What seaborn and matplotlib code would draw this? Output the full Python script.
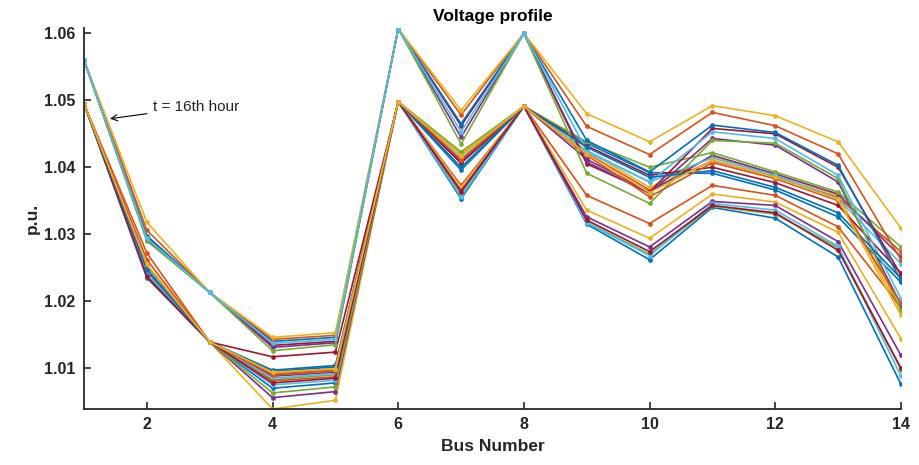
import matplotlib
matplotlib.use("Agg")
import matplotlib.pyplot as plt
import seaborn as sns
import pandas as pd

buses = list(range(1, 15))
hours = list(range(1, 25))

# voltage (p.u.) at buses 1..14 for each hour
h01 = [1.0495, 1.0248, 1.0139, 1.0097, 1.0104, 1.0498, 1.0396, 1.0491, 1.0436, 1.0392, 1.0391, 1.0366, 1.0326, 1.0228]
h02 = [1.0495, 1.0272, 1.0139, 1.0091, 1.0098, 1.0498, 1.0418, 1.0491, 1.0421, 1.0366, 1.0410, 1.0386, 1.0355, 1.0274]
h03 = [1.0495, 1.0252, 1.0139, 1.0093, 1.0100, 1.0498, 1.0420, 1.0491, 1.0425, 1.0370, 1.0416, 1.0390, 1.0358, 1.0185]
h04 = [1.0495, 1.0246, 1.0139, 1.0088, 1.0094, 1.0498, 1.0409, 1.0491, 1.0412, 1.0363, 1.0418, 1.0390, 1.0360, 1.0266]
h05 = [1.0495, 1.0250, 1.0139, 1.0083, 1.0090, 1.0498, 1.0423, 1.0491, 1.0438, 1.0400, 1.0422, 1.0393, 1.0363, 1.0281]
h06 = [1.0495, 1.0249, 1.0139, 1.0085, 1.0092, 1.0498, 1.0413, 1.0491, 1.0423, 1.0378, 1.0414, 1.0388, 1.0353, 1.0256]
h07 = [1.0495, 1.0244, 1.0139, 1.0117, 1.0124, 1.0498, 1.0406, 1.0491, 1.0432, 1.0388, 1.0400, 1.0377, 1.0343, 1.0242]
h08 = [1.0495, 1.0235, 1.0139, 1.0070, 1.0078, 1.0498, 1.0353, 1.0491, 1.0315, 1.0262, 1.0340, 1.0324, 1.0266, 1.0076]
h09 = [1.0495, 1.0254, 1.0139, 1.0081, 1.0087, 1.0498, 1.0373, 1.0491, 1.0358, 1.0316, 1.0373, 1.0358, 1.0311, 1.0191]
h10 = [1.0495, 1.0240, 1.0139, 1.0039, 1.0052, 1.0498, 1.0370, 1.0491, 1.0336, 1.0294, 1.0360, 1.0348, 1.0303, 1.0144]
h11 = [1.0495, 1.0236, 1.0139, 1.0056, 1.0065, 1.0498, 1.0365, 1.0491, 1.0326, 1.0281, 1.0349, 1.0343, 1.0289, 1.0119]
h12 = [1.0495, 1.0238, 1.0139, 1.0063, 1.0072, 1.0498, 1.0358, 1.0491, 1.0318, 1.0270, 1.0342, 1.0330, 1.0280, 1.0098]
h13 = [1.0495, 1.0242, 1.0139, 1.0075, 1.0082, 1.0498, 1.0356, 1.0491, 1.0317, 1.0268, 1.0346, 1.0336, 1.0282, 1.0088]
h14 = [1.0560, 1.0296, 1.0213, 1.0134, 1.0140, 1.0607, 1.0462, 1.0600, 1.0405, 1.0363, 1.0458, 1.0450, 1.0400, 1.0239]
h15 = [1.0560, 1.0298, 1.0213, 1.0140, 1.0146, 1.0607, 1.0465, 1.0600, 1.0440, 1.0393, 1.0463, 1.0452, 1.0403, 1.0231]
h16 = [1.0560, 1.0306, 1.0213, 1.0143, 1.0149, 1.0607, 1.0478, 1.0600, 1.0461, 1.0419, 1.0482, 1.0462, 1.0420, 1.0262]
h17 = [1.0560, 1.0318, 1.0213, 1.0146, 1.0153, 1.0607, 1.0485, 1.0600, 1.0480, 1.0438, 1.0492, 1.0477, 1.0438, 1.0309]
h18 = [1.0560, 1.0292, 1.0213, 1.0131, 1.0138, 1.0607, 1.0445, 1.0600, 1.0408, 1.0361, 1.0443, 1.0433, 1.0378, 1.0195]
h19 = [1.0560, 1.0290, 1.0213, 1.0126, 1.0135, 1.0607, 1.0435, 1.0600, 1.0391, 1.0346, 1.0440, 1.0436, 1.0383, 1.0187]
h20 = [1.0560, 1.0294, 1.0213, 1.0137, 1.0143, 1.0607, 1.0453, 1.0600, 1.0425, 1.0378, 1.0453, 1.0443, 1.0388, 1.0204]
h21 = [1.0495, 1.0237, 1.0139, 1.0078, 1.0085, 1.0498, 1.0363, 1.0491, 1.0321, 1.0274, 1.0343, 1.0332, 1.0276, 1.0100]
h22 = [1.0495, 1.0247, 1.0139, 1.0095, 1.0102, 1.0498, 1.0400, 1.0491, 1.0430, 1.0385, 1.0395, 1.0370, 1.0332, 1.0234]
h23 = [1.0495, 1.0262, 1.0139, 1.0090, 1.0096, 1.0498, 1.0411, 1.0491, 1.0418, 1.0356, 1.0407, 1.0383, 1.0350, 1.0197]
h24 = [1.0495, 1.0255, 1.0139, 1.0094, 1.0099, 1.0498, 1.0417, 1.0491, 1.0420, 1.0362, 1.0411, 1.0385, 1.0352, 1.0179]

profiles = [h01, h02, h03, h04, h05, h06, h07, h08, h09, h10, h11, h12,
            h13, h14, h15, h16, h17, h18, h19, h20, h21, h22, h23, h24]

matlab_colors = ["#0072BD", "#D95319", "#EDB120", "#7E2F8E",
                 "#77AC30", "#4DBEEE", "#A2142F"]

rows = []
for h, prof in zip(hours, profiles):
    for b, v in zip(buses, prof):
        rows.append({"hour": h, "bus": b, "v": v})
df = pd.DataFrame(rows)

sns.set_theme(style="white")
plt.rcParams["font.family"] = ["Liberation Sans", "DejaVu Sans"]

fig = plt.figure(figsize=(9.2, 4.65), dpi=100)
ax = fig.add_axes([0.0913, 0.1204, 0.8880, 0.8194])

palette = [matlab_colors[i % 7] for i in range(len(hours))]
sns.lineplot(data=df, x="bus", y="v", hue="hour", palette=palette,
             marker="o", markersize=3.4, markeredgewidth=0, linewidth=1.2,
             legend=False, ax=ax, sort=False)

ax.set_xlim(1, 14)
ax.set_ylim(1.0039, 1.0608)
ax.set_xticks([2, 4, 6, 8, 10, 12, 14])
ax.set_yticks([1.01, 1.02, 1.03, 1.04, 1.05, 1.06])
ax.set_yticklabels(["1.01", "1.02", "1.03", "1.04", "1.05", "1.06"])
for lab in ax.get_xticklabels() + ax.get_yticklabels():
    lab.set_fontweight("bold")
    lab.set_fontsize(11.5)
    lab.set_color("#262626")
ax.tick_params(direction="in", length=5, width=1.2, colors="#262626",
               left=True, bottom=True, pad=6)
for s in ["top", "right"]:
    ax.spines[s].set_visible(False)
for s in ["left", "bottom"]:
    ax.spines[s].set_color("#262626")
    ax.spines[s].set_linewidth(1.3)

ax.set_xlabel("Bus Number", fontsize=12.5, fontweight="bold", color="#262626", labelpad=5)
ax.set_ylabel("p.u.", fontsize=12.5, fontweight="bold", color="#262626", labelpad=3)
ax.set_title("Voltage profile", fontsize=12.5, fontweight="bold", color="black", pad=5)

ax.annotate("t = 16th hour", xy=(1.37, 1.0472), xytext=(2.1, 1.0490),
            fontsize=11, color="#222222", va="center", ha="left",
            arrowprops=dict(arrowstyle="->", color="black", lw=0.8))

fig.savefig("out.png", dpi=100)
